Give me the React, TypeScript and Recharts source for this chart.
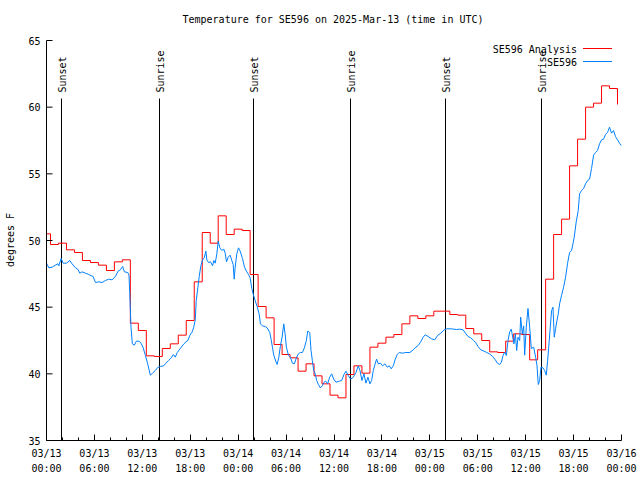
import React from 'react';
import { LineChart, Line, XAxis, YAxis, ReferenceLine } from 'recharts';

const TITLE = 'Temperature for SE596 on 2025-Mar-13 (time in UTC)';
const Y_LABEL = 'degrees F';
const SERIES_NAMES = ['SE596 Analysis', 'SE596'];
const SERIES_COLORS = ['#ff0000', '#0080ff'];

const X_TICKS = [0, 2, 4, 6, 8, 10, 12, 14, 16, 18, 20, 22, 24, 26, 28, 30, 32, 34, 36, 38, 40, 42, 44, 46, 48, 50, 52, 54, 56, 58, 60, 62, 64, 66, 68, 70, 72];
const X_MAJOR_HOURS = [0, 6, 12, 18, 24, 30, 36, 42, 48, 54, 60, 66, 72];
const X_TICK_DATES = ['03/13', '03/13', '03/13', '03/13', '03/14', '03/14', '03/14', '03/14', '03/15', '03/15', '03/15', '03/15', '03/16'];
const X_TICK_TIMES = ['00:00', '06:00', '12:00', '18:00', '00:00', '06:00', '12:00', '18:00', '00:00', '06:00', '12:00', '18:00', '00:00'];
const Y_TICKS = [35, 40, 45, 50, 55, 60, 65];

// Hourly analysis (hours since 03/13 00:00 UTC)
const ANALYSIS_HOURS = [0, 1, 2, 3, 4, 5, 6, 7, 8, 9, 10, 11, 12, 13, 14, 15, 16, 17, 18, 19, 20, 21, 22, 23, 24, 25, 26, 27, 28, 29, 30, 31, 32, 33, 34, 35, 36, 37, 38, 39, 40, 41, 42, 43, 44, 45, 46, 47, 48, 49, 50, 51, 52, 53, 54, 55, 56, 57, 58, 59, 60, 61, 62, 63, 64, 65, 66, 67, 68, 69, 70, 71, 72];
const ANALYSIS_TEMPS = [
  50.5, 49.7, 49.8, 49.3, 49.1, 48.5, 48.35, 48.15, 47.75, 48.4,
  48.55, 43.8, 43.25, 41.35, 41.3, 41.9, 42.25, 42.9, 44.0, 46.9,
  50.6, 49.8, 51.85, 50.45, 50.85, 50.75, 47.45, 45.05, 44.2, 42.2,
  41.45, 41.2, 40.2, 40.75, 39.85, 39.25, 38.4, 38.2, 39.95, 40.6,
  40.05, 42.0, 42.3, 42.75, 42.95, 43.75, 44.35, 44.15, 44.35, 44.7,
  44.7, 44.45, 44.4, 43.4, 43.0, 42.5, 41.65, 41.6, 42.45, 43.0,
  42.95, 41.05, 41.8, 47.1, 50.45, 51.6, 55.6, 57.6, 60.0, 60.3,
  61.6, 61.4, 60.2,
];

// Station observations
const OBS_HOURS = [
  0.0, 0.29, 0.71, 1.1, 1.42, 1.54, 1.83, 2.08, 2.5, 2.92, 3.2, 3.63, 3.92, 4.17, 4.46, 4.88, 5.29, 5.83, 6.13, 6.54,
  6.96, 7.38, 7.79, 8.2, 8.63, 8.96, 9.25, 9.54, 9.75, 10.17, 10.33, 10.42, 10.58, 10.75, 11.0, 11.25, 11.58, 11.83, 12.08, 12.375,
  12.67, 13.0, 13.29, 13.625, 13.96, 14.25, 14.67, 14.96, 15.29, 15.625, 15.875, 16.125, 16.375, 16.625, 16.875, 17.2, 17.46, 17.7, 17.96, 18.2,
  18.42, 18.625, 18.75, 18.96, 19.125, 19.33, 19.54, 19.75, 19.96, 20.08, 20.29, 20.54, 20.79, 20.96, 21.125, 21.33, 21.5, 21.71, 21.96, 22.2,
  22.375, 22.54, 22.75, 23.0, 23.2, 23.375, 23.5, 23.625, 23.83, 24.04, 24.25, 24.54, 24.79, 25.04, 25.29, 25.5, 25.71, 25.92, 26.125, 26.375,
  26.625, 26.79, 27.04, 27.375, 27.625, 27.96, 28.125, 28.29, 28.46, 28.71, 28.875, 29.08, 29.29, 29.5, 29.71, 29.875, 30.04, 30.29, 30.54, 30.79,
  31.04, 31.29, 31.54, 31.79, 32.04, 32.29, 32.54, 32.71, 32.96, 33.125, 33.29, 33.46, 33.625, 33.83, 34.04, 34.29, 34.54, 34.71, 34.96, 35.2,
  35.46, 35.71, 35.96, 36.25, 36.67, 36.96, 37.25, 37.5, 37.79, 38.08, 38.42, 38.75, 39.04, 39.25, 39.5, 39.75, 40.0, 40.25, 40.5, 40.71,
  40.92, 41.125, 41.33, 41.54, 41.83, 42.08, 42.375, 42.67, 42.92, 43.17, 43.42, 43.67, 43.92, 44.17, 44.58, 45.0, 45.5, 45.92, 46.25, 46.54,
  46.83, 47.17, 47.42, 47.79, 48.2, 48.625, 48.96, 49.375, 49.79, 50.125, 50.71, 51.33, 51.75, 52.17, 52.46, 52.79, 53.125, 53.46, 53.71, 54.04,
  54.375, 54.79, 55.125, 55.46, 55.875, 56.2, 56.46, 56.75, 56.96, 57.17, 57.375, 57.58, 57.79, 58.0, 58.2, 58.375, 58.54, 58.71, 58.875, 59.04,
  59.25, 59.375, 59.58, 59.75, 59.875, 60.08, 60.29, 60.5, 60.71, 61.0, 61.25, 61.42, 61.58, 61.75, 61.92, 62.17, 62.375, 62.58, 62.75, 62.92,
  63.08, 63.25, 63.42, 63.58, 63.75, 63.92, 64.08, 64.25, 64.5, 64.75, 65.0, 65.25, 65.5, 65.75, 65.92, 66.08, 66.33, 66.58, 66.75, 67.0,
  67.25, 67.5, 67.75, 68.0, 68.25, 68.5, 68.75, 69.0, 69.25, 69.5, 69.75, 70.0, 70.25, 70.5, 70.75, 71.0, 71.25, 71.5, 71.75, 72.0,
];
const OBS_TEMPS = [
  48.3, 47.95, 48.0, 48.15, 48.25, 48.1, 48.65, 48.3, 48.3, 48.5, 48.25, 47.95, 47.85, 47.55, 47.65, 47.55, 47.45, 47.3, 46.85, 46.9,
  46.85, 47.0, 47.1, 47.05, 47.3, 47.7, 47.8, 48.05, 47.65, 47.6, 47.4, 46.1, 43.5, 42.25, 42.15, 42.45, 42.45, 42.3, 42.0, 41.4,
  40.75, 39.9, 40.05, 40.25, 40.5, 40.55, 40.6, 40.8, 41.0, 41.2, 41.45, 41.25, 41.6, 41.8, 42.0, 42.25, 42.4, 42.5, 42.9, 43.1,
  43.45, 44.05, 45.5, 46.5, 47.3, 48.1, 48.55, 48.7, 49.2, 48.55, 48.35, 48.4, 48.1, 48.5, 48.3, 49.0, 49.95, 49.45, 49.25, 49.35,
  49.05, 48.4, 48.75, 48.9, 48.5, 48.2, 47.1, 48.0, 49.0, 49.45, 49.2, 48.65, 48.0, 47.7, 47.45, 47.2, 46.4, 45.9, 45.5, 45.05,
  44.5, 43.75, 43.6, 43.55, 43.45, 43.1, 42.6, 42.0, 41.4, 40.95, 40.7, 41.2, 42.1, 42.75, 43.75, 43.0, 42.0, 41.4, 41.25, 40.8,
  40.75, 41.2, 41.5, 41.6, 41.6, 41.95, 42.5, 43.2, 43.1, 41.75, 41.0, 40.25, 40.05, 39.5, 39.2, 38.95, 39.1, 39.35, 39.45, 39.25,
  39.75, 40.0, 39.6, 39.375, 39.45, 39.5, 39.95, 40.2, 39.875, 39.6, 39.75, 40.1, 40.6, 40.25, 39.5, 40.0, 39.3, 39.75, 39.25, 39.5,
  40.25, 40.7, 41.1, 40.75, 40.8, 40.6, 40.75, 40.5, 40.6, 40.375, 40.6, 41.1, 41.45, 41.6, 41.55, 41.6, 41.6, 41.8, 42.0, 42.125,
  42.375, 42.75, 42.925, 42.8, 42.625, 42.55, 42.875, 43.05, 43.3, 43.375, 43.375, 43.325, 43.35, 43.3, 43.05, 42.8, 42.7, 42.5, 42.375, 42.05,
  41.8, 41.7, 41.6, 41.5, 41.3, 41.05, 40.8, 40.7, 40.875, 41.375, 41.625, 41.375, 42.5, 43.15, 43.35, 42.75, 42.25, 43.0, 41.75, 42.75,
  42.5, 44.25, 43.0, 43.6, 41.4, 43.5, 44.9, 43.5, 41.9, 42.0, 41.25, 40.6, 39.2, 39.5, 40.5, 40.45, 40.25, 39.9, 41.0, 42.25,
  43.5, 44.75, 45.0, 42.75, 43.4, 44.0, 44.5, 45.25, 45.9, 46.5, 47.25, 48.3, 49.1, 49.25, 49.75, 50.25, 51.4, 52.25, 53.5, 53.75,
  53.9, 54.25, 54.5, 54.6, 55.4, 56.4, 56.6, 56.75, 57.25, 57.55, 57.6, 57.95, 58.1, 58.5, 58.05, 58.25, 57.8, 57.55, 57.3, 57.1,
];

const SUN_HOURS = [1.91, 14.16, 25.91, 38.04, 49.94, 62.04];
const SUN_LABELS = ['Sunset', 'Sunrise', 'Sunset', 'Sunrise', 'Sunset', 'Sunrise'];

// step boundaries halfway between hourly analyses (histeps)
const analysisData = ANALYSIS_HOURS.map((h, i) => ({ t: h - 0.5, v: ANALYSIS_TEMPS[i] }));
const obsData = OBS_HOURS.map((h, i) => ({ t: h, v: OBS_TEMPS[i] }));

const FONT: React.CSSProperties = { fontFamily: '"DejaVu Sans Mono", monospace', fontSize: 10, fill: '#000' };
const snap = (v: number) => Math.floor(v) + 0.5;

function BottomTick(props: any) {
  const { x, y, payload } = props;
  const idx = X_MAJOR_HOURS.indexOf(payload.value);
  const major = idx >= 0;
  const sx = snap(x);
  return (
    <g>
      <line x1={sx} x2={sx} y1={y} y2={y - (major ? 6 : 3)} stroke="#000" strokeWidth={1} />
      {major && (
        <text textAnchor="middle" style={FONT}>
          <tspan x={x} y={y + 16}>{X_TICK_DATES[idx]}</tspan>
          <tspan x={x} y={y + 31}>{X_TICK_TIMES[idx]}</tspan>
        </text>
      )}
    </g>
  );
}

function TopTick(props: any) {
  const { x, y, payload } = props;
  const major = X_MAJOR_HOURS.indexOf(payload.value) >= 0;
  const sx = snap(x);
  return <line x1={sx} x2={sx} y1={y} y2={y + (major ? 6 : 3)} stroke="#000" strokeWidth={1} />;
}

function LeftTick(props: any) {
  const { x, y, payload } = props;
  return (
    <g>
      <line x1={x} x2={x + 6} y1={y} y2={y} stroke="#000" strokeWidth={1} />
      <text x={x - 6} y={y + 4} textAnchor="end" style={FONT}>{payload.value}</text>
    </g>
  );
}

function RightTick(props: any) {
  const { x, y } = props;
  return <line x1={x} x2={x - 6} y1={y} y2={y} stroke="#000" strokeWidth={1} />;
}

function sunShape(label: string) {
  return (p: any) => {
    const lx = snap(p.x1);
    const top = Math.min(p.y1, p.y2);
    const bottom = Math.max(p.y1, p.y2);
    const ty = top + 52;
    return (
      <g>
        <line x1={lx} x2={lx} y1={top + 58} y2={bottom} stroke="#000" strokeWidth={1} />
        <text x={lx + 4} y={ty} transform={`rotate(-90, ${lx + 4}, ${ty})`} textAnchor="start" style={FONT}>{label}</text>
      </g>
    );
  };
}

export default function App() {
  return (
    <div style={{ position: 'absolute', left: 0, top: 0, width: 640, height: 480, background: '#fff' }}>
      <LineChart width={640} height={480} margin={{ top: 40.5, right: 18.5, bottom: 0, left: 6.5 }}>
        <XAxis xAxisId="b" dataKey="t" type="number" domain={[0, 72]} allowDataOverflow ticks={X_TICKS} interval={0}
          height={39.5} tickSize={0} tickMargin={0} tickLine={false} axisLine={{ stroke: '#000' }} tick={<BottomTick />} />
        <XAxis xAxisId="t" dataKey="t" type="number" orientation="top" domain={[0, 72]} allowDataOverflow ticks={X_TICKS} interval={0}
          height={0} tickSize={0} tickMargin={0} tickLine={false} axisLine={{ stroke: '#000' }} tick={<TopTick />} />
        <YAxis yAxisId="l" type="number" domain={[35, 65]} allowDataOverflow ticks={Y_TICKS} interval={0}
          width={40} tickSize={0} tickMargin={0} tickLine={false} axisLine={{ stroke: '#000' }} tick={<LeftTick />} />
        <YAxis yAxisId="r" type="number" orientation="right" domain={[35, 65]} allowDataOverflow ticks={Y_TICKS} interval={0}
          width={0} tickSize={0} tickMargin={0} tickLine={false} axisLine={{ stroke: '#000' }} tick={<RightTick />} />
        {SUN_HOURS.map((h, i) => (
          <ReferenceLine key={i} xAxisId="b" yAxisId="l" x={h} stroke="#000" shape={sunShape(SUN_LABELS[i])} />
        ))}
        <Line xAxisId="b" yAxisId="l" data={analysisData} dataKey="v" name={SERIES_NAMES[0]} type="stepAfter"
          stroke={SERIES_COLORS[0]} strokeWidth={1} dot={false} activeDot={false} isAnimationActive={false} />
        <Line xAxisId="b" yAxisId="l" data={obsData} dataKey="v" name={SERIES_NAMES[1]} type="linear"
          stroke={SERIES_COLORS[1]} strokeWidth={1} dot={false} activeDot={false} isAnimationActive={false} />
        <text x={333} y={23} textAnchor="middle" style={FONT}>{TITLE}</text>
        <text x={14} y={240} transform="rotate(-90, 14, 240)" textAnchor="middle" style={FONT}>{Y_LABEL}</text>
        {SERIES_NAMES.map((name, i) => (
          <g key={name}>
            <text x={577} y={53 + i * 13} textAnchor="end" style={FONT}>{name}</text>
            <line x1={583} x2={612} y1={48.5 + i * 13} y2={48.5 + i * 13} stroke={SERIES_COLORS[i]} strokeWidth={1} />
          </g>
        ))}
      </LineChart>
    </div>
  );
}
